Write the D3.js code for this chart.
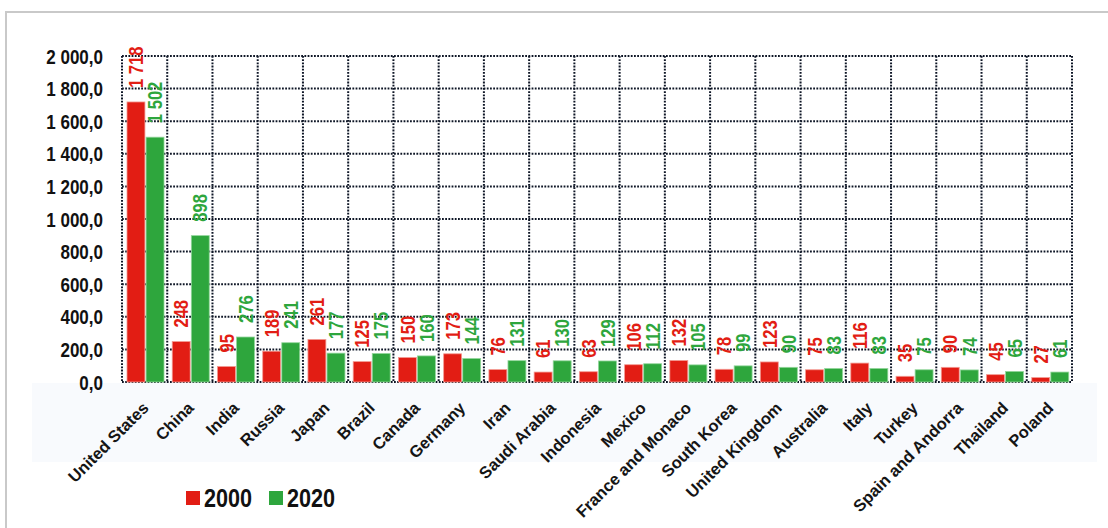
<!DOCTYPE html>
<html>
<head>
<meta charset="utf-8">
<script src="https://cdn.jsdelivr.net/npm/d3@7"></script>
<style>
  html, body { margin: 0; padding: 0; background: #fff; }
  svg { display: block; }
  text { font-family: "Liberation Sans", Arial, sans-serif; }
</style>
</head>
<body>
<svg id="chart" width="1108" height="528"></svg>
<script>
// Countries, ordered by 2020 emissions ranking
const countries = ["United States", "China", "India", "Russia", "Japan", "Brazil", "Canada",
  "Germany", "Iran", "Saudi Arabia", "Indonesia", "Mexico", "France and Monaco", "South Korea",
  "United Kingdom", "Australia", "Italy", "Turkey", "Spain and Andorra", "Thailand", "Poland"];
const values2000 = [1718, 248, 95, 189, 261, 125, 150, 173, 76, 61, 63, 106, 132, 78, 123, 75, 116, 35, 90, 45, 27];
const values2020 = [1502, 898, 276, 241, 177, 175, 160, 144, 131, 130, 129, 112, 105, 99, 90, 83, 83, 75, 74, 65, 61];
const seriesNames = ["2000", "2020"];
const yTicks = [0, 200, 400, 600, 800, 1000, 1200, 1400, 1600, 1800, 2000];

const colors = { "2000": "#e21d14", "2020": "#2ea63d" };
const strokes = { "2000": "#f39a92", "2020": "#93d69c" };
const condense = 0.83; // horizontal squeeze to get a narrow face

const svg = d3.select("#chart");

// outer frame (top and left edges visible)
svg.append("path")
  .attr("d", "M6,528 V12 H1108")
  .attr("fill", "none").attr("stroke", "#c9c9c9").attr("stroke-width", 2);

const plot = { left: 122, right: 1072, top: 56, bottom: 382 };

const x0 = d3.scaleBand().domain(countries).range([plot.left, plot.right]).padding(0);
const x1 = d3.scaleBand().domain(seriesNames).range([5, 42]).paddingInner(0.06);
const y = d3.scaleLinear().domain([0, 2000]).range([plot.bottom, plot.top]);

// category label strip
svg.append("rect")
  .attr("x", 32).attr("y", 383).attr("width", 1065).attr("height", 79)
  .attr("fill", "#f8fafd");

// dotted grid
const gridStyle = sel => sel.attr("stroke", "#0e1626").attr("stroke-width", 2)
  .attr("stroke-dasharray", "1.8,1.4").attr("fill", "none");

svg.append("g").selectAll("line").data(yTicks).join("line")
  .attr("x1", plot.left).attr("x2", plot.right)
  .attr("y1", d => y(d)).attr("y2", d => y(d))
  .call(gridStyle);

const bounds = countries.map(c => x0(c)).concat([plot.right]);
svg.append("g").selectAll("line").data(bounds).join("line")
  .attr("x1", d => d).attr("x2", d => d)
  .attr("y1", plot.top).attr("y2", plot.bottom)
  .call(gridStyle);

// y axis labels
const fmtAxis = d => d3.format(",.1f")(d).replace(/,/g, " ").replace(".", ",");
const yAxis = d3.axisLeft(y).tickValues(yTicks).tickFormat(fmtAxis).tickSize(0).tickPadding(19);
const ya = svg.append("g").attr("transform", `translate(${plot.left},0)`).call(yAxis);
ya.select(".domain").remove();
ya.selectAll("text")
  .attr("font-family", null)
  .attr("font-size", 20.5).attr("font-weight", "bold").attr("fill", "#111")
  .attr("x", null).attr("dy", "0.35em")
  .attr("transform", `translate(-19,0) scale(${condense},1)`);

// bars
const rows = countries.map((c, i) => ({ country: c, vals: [
  { key: "2000", value: values2000[i] },
  { key: "2020", value: values2020[i] }
]}));

const groups = svg.append("g").selectAll("g").data(rows).join("g")
  .attr("transform", d => `translate(${x0(d.country)},0)`);

groups.selectAll("rect").data(d => d.vals).join("rect")
  .attr("x", d => x1(d.key))
  .attr("y", d => y(d.value))
  .attr("width", x1.bandwidth())
  .attr("height", d => y(0) - y(d.value))
  .attr("fill", d => colors[d.key])
  .attr("stroke", d => strokes[d.key]).attr("stroke-width", 0.8);

// value labels, rotated above each bar
const fmtVal = d => d3.format(",")(d).replace(/,/g, " ");
groups.selectAll("text.val").data(d => d.vals).join("text")
  .attr("class", "val")
  .attr("transform", d => `translate(${x1(d.key) + x1.bandwidth() / 2},${y(d.value) - 14}) rotate(-90) scale(${condense},1)`)
  .attr("dy", "0.36em")
  .attr("text-anchor", "start")
  .attr("font-size", 20).attr("font-weight", "bold")
  .attr("fill", d => colors[d.key])
  .text(d => fmtVal(d.value));

// category labels
const xAxis = d3.axisBottom(x0).tickSize(0).tickPadding(0);
const xa = svg.append("g").attr("transform", `translate(0,${plot.bottom})`).call(xAxis);
xa.select(".domain").remove();
xa.selectAll("text")
  .attr("font-family", null)
  .attr("font-size", 16.5).attr("font-weight", "bold").attr("fill", "#151515")
  .attr("text-anchor", "end")
  .attr("dy", null).attr("y", 0)
  .attr("transform", "translate(5,27) rotate(-45)");

// legend
const legend = svg.append("g");
const legendItems = [{ key: "2000", x: 186 }, { key: "2020", x: 269 }];
legend.selectAll("rect").data(legendItems).join("rect")
  .attr("x", d => d.x).attr("y", 491).attr("width", 14).attr("height", 14)
  .attr("fill", d => colors[d.key]);
legend.selectAll("text").data(legendItems).join("text")
  .attr("transform", d => `translate(${d.x + 18},507) scale(${condense},1)`)
  .attr("font-size", 26).attr("font-weight", "bold").attr("fill", "#111")
  .text(d => d.key);
</script>
</body>
</html>
